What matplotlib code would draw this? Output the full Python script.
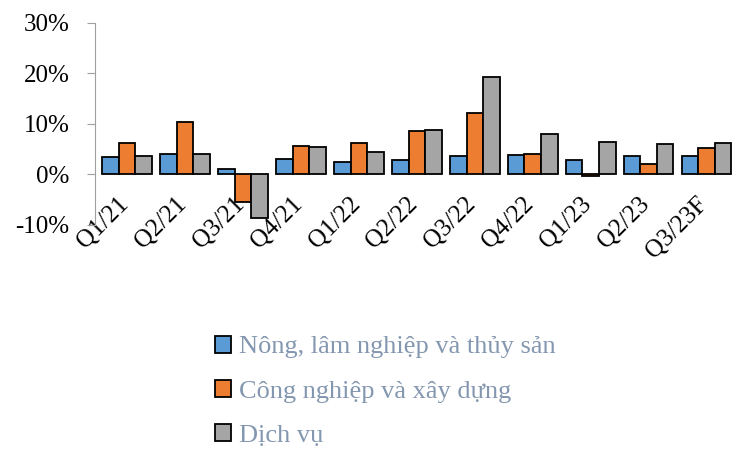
import numpy as np
import matplotlib.pyplot as plt
from matplotlib.ticker import PercentFormatter
from matplotlib.transforms import ScaledTranslation

plt.rcParams['font.family'] = ['Liberation Serif', 'DejaVu Serif']
plt.rcParams['axes.unicode_minus'] = False

quarters = ["Q1/21", "Q2/21", "Q3/21", "Q4/21", "Q1/22", "Q2/22",
            "Q3/22", "Q4/22", "Q1/23", "Q2/23", "Q3/23F"]
nong_nghiep = [3.4, 4.0, 1.1, 3.1, 2.4, 2.9, 3.6, 3.9, 2.8, 3.7, 3.7]
cong_nghiep = [6.2, 10.3, -5.4, 5.6, 6.3, 8.6, 12.1, 4.1, -0.3, 2.1, 5.2]
dich_vu = [3.6, 4.1, -8.6, 5.4, 4.5, 8.8, 19.3, 8.0, 6.5, 6.1, 6.2]
names = ["Nông, lâm nghiệp và thủy sản", "Công nghiệp và xây dựng", "Dịch vụ"]
colors = ["#5B9BD5", "#ED7D31", "#A5A5A5"]

fig = plt.figure(figsize=(7.43, 4.49), dpi=100)
ax = fig.add_axes([0.128, 0.499, 0.866, 0.45])

x = np.arange(len(quarters))
w = 0.285
handles = []
for i, vals in enumerate([nong_nghiep, cong_nghiep, dich_vu]):
    b = ax.bar(x + (i - 1) * w, vals, w, color=colors[i], edgecolor="black",
               linewidth=1.3, label=names[i])
    handles.append(b)

ax.set_ylim(-10, 30)
ax.set_yticks([-10, 0, 10, 20, 30])
ax.yaxis.set_major_formatter(PercentFormatter(decimals=0))
ax.set_xlim(-0.55, len(quarters) - 0.45)
ax.set_xticks(x)
ax.set_xticklabels(quarters, rotation=45, ha="right", rotation_mode="anchor")
ax.tick_params(axis="x", length=0, labelsize=18, pad=-23)
ax.tick_params(axis="y", labelsize=18, color="#A0A0A0", length=5.5, pad=13)
for t in ax.get_xticklabels():
    t.set_transform(t.get_transform() + ScaledTranslation(-0.10, 0, fig.dpi_scale_trans))
for s in ["top", "right", "bottom"]:
    ax.spines[s].set_visible(False)
ax.spines["left"].set_color("#A0A0A0")

leg = fig.legend(handles=handles, loc="upper left", bbox_to_anchor=(0.258, 0.305),
                 frameon=False, fontsize=19, handlelength=0.6, handleheight=0.6,
                 handletextpad=0.3, labelspacing=0.82, labelcolor="#8497B0")

fig.savefig("out.png", dpi=100)
